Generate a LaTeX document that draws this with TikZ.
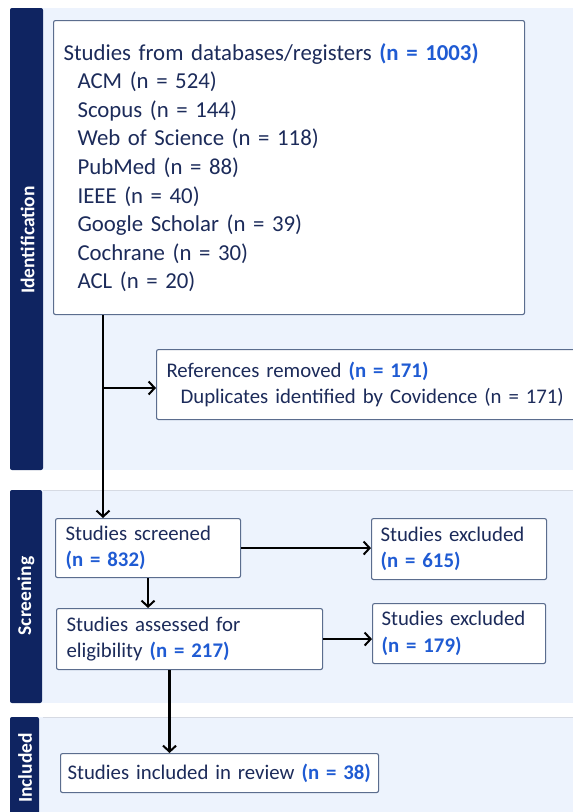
\documentclass[tikz,border=0pt]{standalone}
\usepackage{fontspec}
\setmainfont{Carlito}
\usetikzlibrary{arrows.meta,positioning}
\definecolor{prismaNavy}{HTML}{0F2461}
\definecolor{prismaBand}{HTML}{EDF3FD}
\definecolor{prismaEdge}{HTML}{5B6D8E}
\definecolor{prismaText}{HTML}{1C2B5A}
\definecolor{prismaBlue}{HTML}{1F5BD3}
\newcommand{\cnt}[1]{\textcolor{prismaBlue}{\textbf{#1}}}

\begin{document}
\begin{tikzpicture}[
  x=1pt, y=-1pt,
  every node/.style={font=\fontsize{20.8}{26.5}\selectfont, text=prismaText},
  band/.style={fill=prismaBand},
  bandedge/.style={draw=prismaEdge!25, line width=0.8pt},
  tab/.style={fill=prismaNavy, rounded corners=2pt},
  tablabel/.style={rotate=90, text=white, font=\fontsize{19.5}{21}\selectfont\bfseries},
  box/.style={draw=prismaEdge, line width=1.1pt, fill=white, rounded corners=2pt, anchor=north west, align=left, inner xsep=10pt, inner ysep=3pt},
  pipe/.style={-{Straight Barb[length=6pt,width=13pt,line width=2pt]}, line width=2.2pt, black},
]
  \useasboundingbox (0,0) rectangle (573,812);

  % phase bands
  \fill[band] (10,8) rectangle (580,470);
  \fill[band] (10,490) rectangle (580,703);
  \fill[band] (10,717) rectangle (580,830);
  \draw[bandedge] (43,490) -- (580,490);
  \draw[bandedge] (43,717) -- (580,717);
  \fill[tab] (10,8) rectangle (43,470);
  \fill[tab] (10,490) rectangle (42,703);
  \fill[tab] (10,717) rectangle (39,830);
  \node[tablabel] (idlab) at (27.5,240) {Identification};
  \node[tablabel] (scrlab) at (26,596) {Screening};
  \node[tablabel] (inclab) at (25,768) {Included};

  % boxes
  \node[box, text width=451pt, minimum height=294pt, font=\fontsize{22.8}{28.6}\selectfont] (records) at (53,20)
    {Studies from databases/registers \cnt{(n = 1003)}\\
     \hspace*{14pt}ACM (n = 524)\\
     \hspace*{14pt}Scopus (n = 144)\\
     \hspace*{14pt}Web of Science (n = 118)\\
     \hspace*{14pt}PubMed (n = 88)\\
     \hspace*{14pt}IEEE (n = 40)\\
     \hspace*{14pt}Google Scholar (n = 39)\\
     \hspace*{14pt}Cochrane (n = 30)\\
     \hspace*{14pt}ACL (n = 20)};
  \node[box, text width=430pt, minimum height=70pt] (removed) at (156,349)
    {References removed \cnt{(n = 171)}\\
     \hspace*{14pt}Duplicates identified by Covidence (n = 171)};
  \node[box, text width=165pt, minimum height=59pt] (screened) at (55,518)
    {Studies screened\\\cnt{(n = 832)}};
  \node[box, text width=157pt, minimum height=61pt, inner xsep=9pt] (excl1) at (371,518)
    {Studies excluded\\\cnt{(n = 615)}};
  \node[box, text width=246pt, minimum height=61pt] (assessed) at (56,608)
    {Studies assessed for\\eligibility \cnt{(n = 217)}};
  \node[box, text width=155pt, minimum height=60pt, inner xsep=9pt] (excl2) at (372,603)
    {Studies excluded\\\cnt{(n = 179)}};
  \node[box, text width=304pt, minimum height=39pt, inner xsep=7pt] (included) at (60,753)
    {Studies included in review \cnt{(n = 38)}};

  % connectors
  \coordinate (split) at (103,388);
  \draw[pipe] (split |- records.south) -- (split |- screened.north);
  \draw[pipe] (split) -- (split -| removed.west);
  \draw[pipe] (screened.east) -- (screened.east -| excl1.west);
  \draw[pipe] (screened.south) -- (screened.south |- assessed.north);
  \draw[pipe] (assessed.east) -- (assessed.east -| excl2.west);
  \draw[pipe] ([xshift=-20pt]assessed.south) -- ([xshift=-20pt]assessed.south |- included.north);
\end{tikzpicture}
\end{document}
